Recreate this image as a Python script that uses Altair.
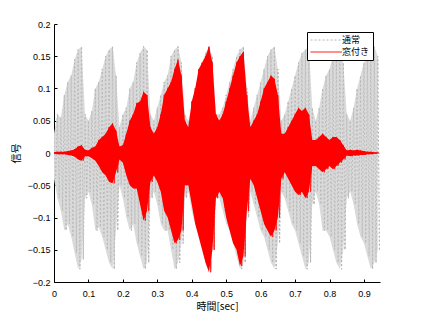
import altair as alt
import pandas as pd

# envelope readings every 0.01 s (t = 0.00 ... 0.94)
T = [round(i * 0.01, 2) for i in range(95)]

GRAY_UP = [
    0.03, 0.06, 0.055, 0.09, 0.11, 0.12, 0.145, 0.16, 0.165, 0.06,
    0.05, 0.065, 0.10, 0.11, 0.13, 0.15, 0.16, 0.165, 0.12, 0.04,
    0.06, 0.07, 0.10, 0.11, 0.14, 0.155, 0.165, 0.16, 0.06, 0.05,
    0.07, 0.09, 0.11, 0.12, 0.15, 0.16, 0.165, 0.14, 0.06,
    0.05, 0.07, 0.10, 0.12, 0.14, 0.155, 0.165, 0.15, 0.06,
    0.06, 0.07, 0.09, 0.11, 0.13, 0.15, 0.16, 0.165, 0.10, 0.05,
    0.07, 0.09, 0.11, 0.13, 0.15, 0.16, 0.165, 0.13, 0.05,
    0.06, 0.08, 0.10, 0.12, 0.14, 0.155, 0.16, 0.165, 0.07, 0.05,
    0.07, 0.10, 0.12, 0.13, 0.15, 0.16, 0.165, 0.14, 0.06, 0.05,
    0.07, 0.10, 0.12, 0.14, 0.15, 0.16, 0.165, 0.15,
]
GRAY_LO = [
    -0.04, -0.07, -0.09, -0.12, -0.11, -0.13, -0.155, -0.18, -0.165, -0.07,
    -0.06, -0.08, -0.12, -0.115, -0.13, -0.15, -0.17, -0.18, -0.12, -0.05,
    -0.07, -0.10, -0.12, -0.11, -0.14, -0.16, -0.18, -0.17, -0.07, -0.06,
    -0.08, -0.11, -0.12, -0.12, -0.15, -0.18, -0.17, -0.14, -0.07,
    -0.06, -0.09, -0.11, -0.12, -0.14, -0.17, -0.18, -0.15, -0.07,
    -0.07, -0.09, -0.11, -0.12, -0.14, -0.16, -0.18, -0.17, -0.10, -0.06,
    -0.08, -0.10, -0.12, -0.13, -0.15, -0.17, -0.18, -0.14, -0.06,
    -0.07, -0.09, -0.11, -0.12, -0.14, -0.16, -0.18, -0.17, -0.08, -0.06,
    -0.08, -0.12, -0.12, -0.13, -0.15, -0.17, -0.18, -0.15, -0.07, -0.06,
    -0.08, -0.11, -0.13, -0.14, -0.16, -0.18, -0.17, -0.15,
]
RED_UP = [
    0.001, 0.002, 0.002, 0.002, 0.003, 0.004, 0.006, 0.01, 0.012, 0.005,
    0.004, 0.008, 0.01, 0.02, 0.025, 0.03, 0.04, 0.046, 0.035, 0.01,
    0.012, 0.03, 0.05, 0.06, 0.077, 0.08, 0.095, 0.09, 0.04, 0.03,
    0.04, 0.06, 0.09, 0.10, 0.11, 0.13, 0.145, 0.12, 0.05,
    0.04, 0.08, 0.10, 0.13, 0.14, 0.15, 0.165, 0.14, 0.06,
    0.05, 0.06, 0.08, 0.10, 0.12, 0.14, 0.15, 0.157, 0.09, 0.04,
    0.05, 0.06, 0.08, 0.10, 0.11, 0.12, 0.115, 0.09, 0.03,
    0.03, 0.04, 0.05, 0.06, 0.07, 0.065, 0.07, 0.06, 0.02, 0.02,
    0.025, 0.03, 0.025, 0.02, 0.025, 0.025, 0.02, 0.012, 0.004, 0.005,
    0.004, 0.005, 0.004, 0.003, 0.002, 0.002, 0.001, 0.001,
]
RED_LO = [
    -0.001, -0.002, -0.002, -0.002, -0.003, -0.004, -0.006, -0.01, -0.012, -0.005,
    -0.005, -0.008, -0.012, -0.02, -0.03, -0.035, -0.045, -0.047, -0.03, -0.01,
    -0.015, -0.035, -0.05, -0.055, -0.055, -0.08, -0.105, -0.09, -0.045, -0.035,
    -0.045, -0.06, -0.09, -0.10, -0.12, -0.14, -0.135, -0.12, -0.05,
    -0.05, -0.08, -0.11, -0.13, -0.15, -0.17, -0.185, -0.15, -0.07,
    -0.06, -0.07, -0.10, -0.12, -0.14, -0.15, -0.175, -0.16, -0.09, -0.04,
    -0.05, -0.07, -0.09, -0.11, -0.12, -0.13, -0.12, -0.10, -0.04,
    -0.03, -0.04, -0.05, -0.06, -0.065, -0.06, -0.07, -0.06, -0.02, -0.02,
    -0.025, -0.03, -0.025, -0.02, -0.025, -0.02, -0.015, -0.01, -0.004, -0.005,
    -0.004, -0.004, -0.003, -0.003, -0.002, -0.002, -0.001, -0.001,
]

SERIES = ["通常", "窓付き"]
COLORS = ["#b4b4b4", "#ff0000"]
XTICKS = [0, 0.1, 0.2, 0.3, 0.4, 0.5, 0.6, 0.7, 0.8, 0.9]
YTICKS = [-0.2, -0.15, -0.1, -0.05, 0, 0.05, 0.1, 0.15, 0.2]

assert len(GRAY_UP) == len(GRAY_LO) == len(RED_UP) == len(RED_LO) == len(T)


def build(name, up, lo):
    rows = []
    k = 0
    for t, u, l in zip(T, up, lo):
        rows.append({"t": t, "v": u, "s": name, "k": k}); k += 1
        rows.append({"t": round(t + 0.005, 3), "v": l, "s": name, "k": k}); k += 1
    return pd.DataFrame(rows)


def band(up, lo):
    return pd.DataFrame({"t": T, "up": up, "lo": lo})


gray_df = build(SERIES[0], GRAY_UP, GRAY_LO)
red_df = build(SERIES[1], RED_UP, RED_LO)

W, H = 326, 258
xscale = alt.Scale(domain=[0, 0.9466], nice=False, zero=False)
yscale = alt.Scale(domain=[-0.2, 0.2], nice=False)

LEG = dict(orient="none", legendX=253, legendY=8,
           symbolType="M-1,0H6", symbolSize=81,
           symbolStrokeWidth=1, labelFontSize=9,
           labelFont="Noto Sans CJK JP", labelColor="black",
           strokeColor="black", fillColor="white",
           padding=3, rowPadding=2, labelOffset=22)

color = alt.Color("s:N", title=None,
                  scale=alt.Scale(domain=SERIES, range=COLORS),
                  sort=SERIES, legend=alt.Legend(**LEG))
dash = alt.StrokeDash("s:N", title=None,
                      scale=alt.Scale(domain=SERIES, range=[[2, 2], [1, 0]]),
                      sort=SERIES, legend=alt.Legend(**LEG))

gray_band = alt.Chart(band(GRAY_UP, GRAY_LO)).mark_area(
    color="#dadada", clip=True).encode(
    x=alt.X("t:Q", scale=xscale, axis=None),
    y=alt.Y("lo:Q", scale=yscale, axis=None),
    y2="up:Q",
)

red_band = alt.Chart(band(RED_UP, RED_LO)).mark_area(
    color="#ff0000", clip=True).encode(
    x=alt.X("t:Q", scale=xscale, axis=None),
    y=alt.Y("lo:Q", scale=yscale, axis=None),
    y2="up:Q",
)

# first layer: gray waveform carrying the labelled axes (and the legend look)
gray_axes = alt.Chart(gray_df).mark_line(strokeWidth=0.8, clip=True).encode(
    x=alt.X("t:Q", scale=xscale,
            axis=alt.Axis(values=XTICKS, format=".1~f", ticks=False,
                          labelFontSize=9, labelFont="Liberation Sans",
                          labelColor="black", labelPadding=7, labelFlush=False,
                          labelOverlap=False, domainColor="black",
                          title="時間[sec]", titleFont="Noto Sans CJK JP",
                          titleFontSize=10, titleFontWeight="normal",
                          titleColor="black", titlePadding=3, grid=False)),
    y=alt.Y("v:Q", scale=yscale,
            axis=alt.Axis(values=YTICKS, format=".2~f", ticks=False,
                          labelFontSize=9, labelFont="Liberation Sans",
                          labelColor="black", labelPadding=4, labelFlush=False,
                          labelOverlap=False, domainColor="black",
                          title="信号", titleFont="Noto Sans CJK JP",
                          titleFontSize=10, titleFontWeight="normal",
                          titleColor="black", titlePadding=6, grid=False)),
    color=color,
    strokeDash=dash,
    order="k:Q",
)

gray = alt.Chart(gray_df).mark_line(strokeWidth=0.8, clip=True).encode(
    x=alt.X("t:Q", scale=xscale, axis=None),
    y=alt.Y("v:Q", scale=yscale, axis=None),
    color=color,
    strokeDash=dash,
    order="k:Q",
)

red = alt.Chart(red_df).mark_line(strokeWidth=0.8, clip=True).encode(
    x=alt.X("t:Q", scale=xscale,
            axis=alt.Axis(orient="top", offset=-H, values=XTICKS, labels=False,
                          domain=False, ticks=True, tickSize=3,
                          tickColor="black", grid=False, title=None)),
    y=alt.Y("v:Q", scale=yscale,
            axis=alt.Axis(orient="right", offset=-W, values=YTICKS, labels=False,
                          domain=False, ticks=True, tickSize=3,
                          tickColor="black", grid=False, title=None)),
    color=color,
    strokeDash=dash,
    order="k:Q",
)

chart = alt.layer(gray_axes, gray_band, gray, red_band, red).resolve_axis(
    x="independent", y="independent").properties(
    width=W, height=H,
    autosize=alt.AutoSizeParams(type="none"),
    padding={"left": 54, "top": 24, "right": 41, "bottom": 34},
    background="white",
).configure_view(stroke=None)

chart.save("out.html", embed_options={"renderer": "svg", "actions": False})
